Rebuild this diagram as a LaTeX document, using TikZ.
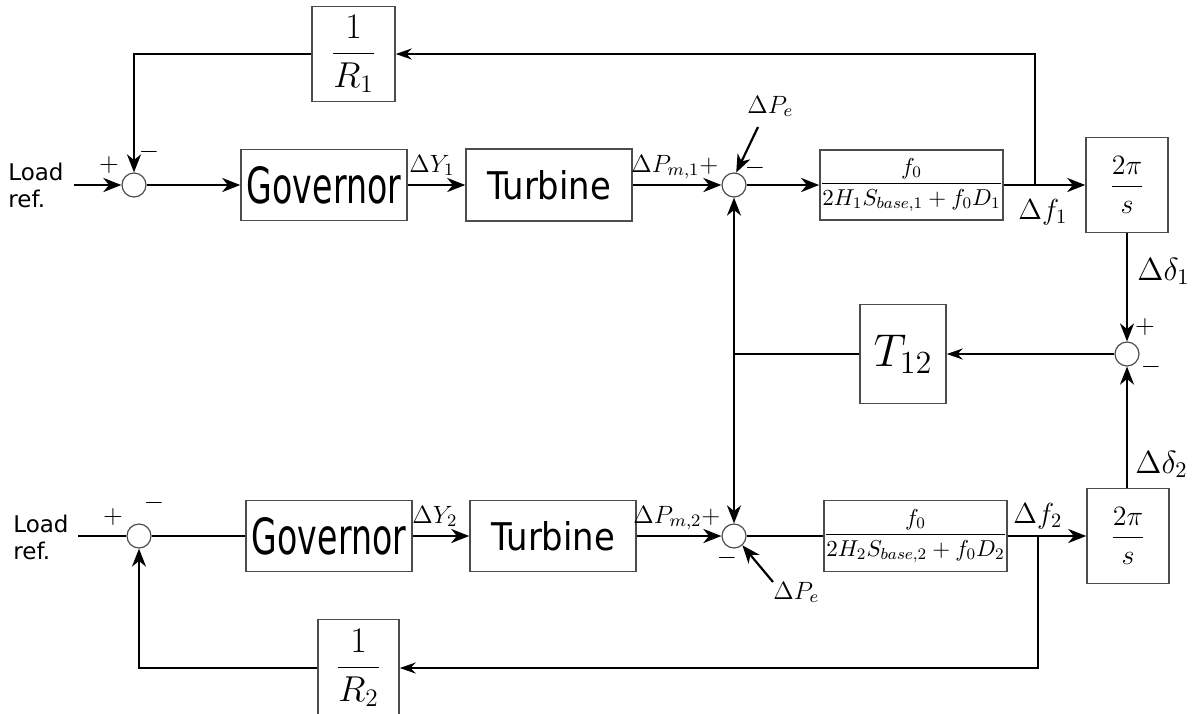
\documentclass[tikz,border=0pt]{standalone}
\usepackage{fix-cm}
\usepackage{amsmath}
\usepackage{graphicx}
\usepackage{fontspec}
\newfontfamily\dejavu{DejaVu Sans}
\usetikzlibrary{arrows.meta}

% sizes of the math labels
\newcommand{\msz}[1]{\fontsize{#1}{#1}\selectfont}

\tikzset{
  blk/.style={rectangle, draw=black!70, line width=0.75pt, fill=white, inner sep=0pt},
  sumj/.style={circle, draw=black!70, line width=0.6pt, fill=white, minimum size=12pt, inner sep=0pt},
  tipbig/.style={-{Stealth[length=9pt,width=7pt,inset=2.8pt]}},
  tipsmall/.style={-{Stealth[length=8pt,width=5.5pt,inset=2.6pt]}},
  sig/.style={line width=1.45pt},
  aux/.style={line width=1.1pt},
  lbl/.style={inner sep=0pt, anchor=base west},
  sgn/.style={inner sep=0pt, font=\msz{13}},
  word/.style={inner sep=0pt, anchor=base west, font=\fontsize{11.5}{14}\dejavu},
}

\begin{document}
\begin{tikzpicture}[x=0.5pt,y=-0.5pt]
\useasboundingbox (0,0) rectangle (1203,713);

% ---------- area 1 ----------
\node[word] (ld1a) at (8,180) {Load};
\node[word] (ld1b) at (8,207) {ref.};
\coordinate (in1) at (74,185);
\node[sumj] (S1) at (134,185) {};
\node[blk, minimum width=83pt, minimum height=35.5pt] (G1) at (324,185)
  {\resizebox{77pt}{18.5pt}{\dejavu Governor}};
\node[blk, minimum width=83pt, minimum height=36pt] (Tu1) at (549,185)
  {\resizebox{62pt}{14.5pt}{\dejavu Turbine}};
\node[sumj] (S2) at (734,185) {};
\node[blk, minimum width=88.5pt, minimum height=35pt] (TF1) at (911.5,185)
  {\msz{11.5}$\displaystyle\frac{f_0}{2H_1S_{base,1}+f_0D_1}$};
\node[blk, minimum width=41pt, minimum height=47.5pt] (I1) at (1127,185)
  {\msz{14}$\displaystyle\frac{2\pi}{s}$};
\node[blk, minimum width=41.5pt, minimum height=47.5pt] (R1) at (353.5,54)
  {\msz{18}$\displaystyle\frac{1}{R_1}$};
\coordinate (B1) at (1035,185);

% ---------- tie line ----------
\node[sumj] (S3) at (1127,354) {};
\node[blk, minimum width=43pt, minimum height=49.5pt] (T12) at (903,354)
  {\msz{23}$T_{12}$};
\coordinate (J) at (734,354);

% ---------- area 2 ----------
\node[word] (ld2a) at (13,532) {Load};
\node[word] (ld2b) at (13,559) {ref.};
\coordinate (in2) at (78,536);
\node[sumj] (S5) at (139,536) {};
\node[blk, minimum width=83pt, minimum height=35.5pt] (G2) at (329,536)
  {\resizebox{77pt}{18.5pt}{\dejavu Governor}};
\node[blk, minimum width=83pt, minimum height=35.5pt] (Tu2) at (553,536)
  {\resizebox{62pt}{14.5pt}{\dejavu Turbine}};
\node[sumj] (S4) at (734,536) {};
\node[blk, minimum width=88.5pt, minimum height=35.5pt] (TF2) at (915.5,536)
  {\msz{11.5}$\displaystyle\frac{f_0}{2H_2S_{base,2}+f_0D_2}$};
\node[blk, minimum width=41pt, minimum height=47.5pt] (I2) at (1128,536)
  {\msz{14}$\displaystyle\frac{2\pi}{s}$};
\node[blk, minimum width=40.5pt, minimum height=48.5pt] (R2) at (358.5,668)
  {\msz{18}$\displaystyle\frac{1}{R_2}$};
\coordinate (B2) at (1038,536);

% ---------- connectors, area 1 ----------
\draw[sig, tipbig] (in1) -- (S1.west);
\draw[sig, tipbig] (S1.east) -- (G1.west);
\draw[sig, tipbig] (G1.east) -- (Tu1.west);
\draw[sig, tipbig] (Tu1.east) -- (S2.west);
\draw[sig, tipbig] (S2.east) -- (TF1.west);
\draw[sig, tipbig] (TF1.east) -- (I1.west);
\draw[aux, tipsmall] (B1) |- (R1.east);
\draw[aux, tipbig] (R1.west) -| (S1.north);

% ---------- connectors, tie line ----------
\draw[aux, tipbig] (I1.south) -- (S3.north);
\draw[aux, tipbig] (I2.north -| S3) -- (S3.south);
\draw[aux, tipsmall] (S3.west) -- (T12.east);
\draw[aux] (T12.west) -- (J);
\draw[aux, tipbig] (J) -- (S2.south);
\draw[aux, tipbig] (J) -- (S4.north);

% ---------- connectors, area 2 ----------
\draw[sig] (in2) -- (S5.west);
\draw[sig] (S5.east) -- (G2.west);
\draw[sig, tipbig] (G2.east) -- (Tu2.west);
\draw[sig, tipbig] (Tu2.east) -- (S4.west);
\draw[sig] (S4.east) -- (TF2.west);
\draw[sig, tipbig] (TF2.east) -- (I2.west);
\draw[aux, tipsmall] (B2) |- (R2.east);
\draw[aux, tipbig] (R2.west) -| (S5.south);

% ---------- disturbances ----------
\node[lbl, font=\msz{12.5}] (Pe1) at (747,113) {$\Delta P_e$};
\coordinate (pe1t) at (758,127);
\draw[aux, tipbig] (pe1t) -- (S2.80);
\node[lbl, font=\msz{12.5}] (Pe2) at (773,599) {$\Delta P_e$};
\coordinate (pe2t) at (773,582);
\draw[aux, tipbig] (pe2t) -- (S4.-48);

% ---------- signal labels ----------
\node[lbl, font=\msz{12.5}] (y1) at (409,172) {$\Delta Y_1$};
\node[lbl, font=\msz{12.5}] (pm1) at (631,172) {$\Delta P_{m,1}{+}$};
\node[lbl, font=\msz{14.5}] (f1) at (1018,219) {$\Delta f_1$};
\node[lbl, font=\msz{16}] (d1) at (1137,280) {$\Delta\delta_1$};
\node[lbl, font=\msz{16}] (d2) at (1135,473) {$\Delta\delta_2$};
\node[lbl, font=\msz{12.5}] (y2) at (412,523) {$\Delta Y_2$};
\node[lbl, font=\msz{12.5}] (pm2) at (633,523) {$\Delta P_{m,2}{+}$};
\node[lbl, font=\msz{14.5}] (f2) at (1013,523) {$\Delta f_2$};

% ---------- signs ----------
\node[sgn] (p1) at (109,165) {$+$};
\node[sgn] (m1) at (149,152) {$-$};
\node[sgn] (m2) at (755,168) {$-$};
\node[sgn] (p3) at (1145,327) {$+$};
\node[sgn] (m3) at (1151,367) {$-$};
\node[sgn] (m4) at (727,558) {$-$};
\node[sgn] (p5) at (113,517) {$+$};
\node[sgn] (m5) at (154,503) {$-$};
\end{tikzpicture}
\end{document}
